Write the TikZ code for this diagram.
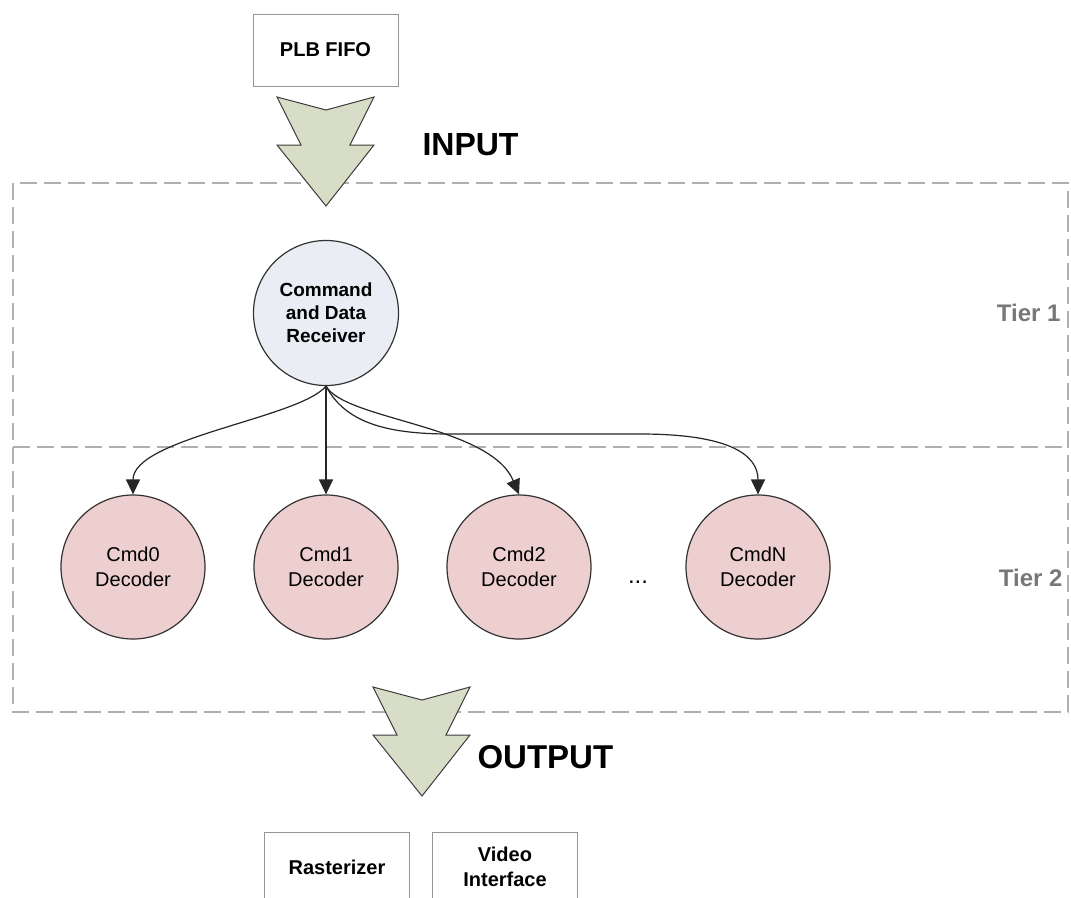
\documentclass[tikz,border=0pt]{standalone}
\usepackage{fontspec}
\setmainfont{Liberation Sans}
\usetikzlibrary{arrows.meta}

\definecolor{arrowfill}{RGB}{216,221,199}
\definecolor{arrowline}{RGB}{60,60,60}
\definecolor{rxfill}{RGB}{234,238,244}
\definecolor{decfill}{RGB}{238,207,207}
\definecolor{boxgray}{RGB}{150,150,150}
\definecolor{dashgray}{RGB}{175,175,175}
\definecolor{tiergray}{RGB}{120,120,120}

\tikzset{
  blockbox/.style={draw=boxgray, line width=1pt, fill=white, align=center,
    minimum width=145, minimum height=72, inner sep=0pt,
    font=\bfseries\fontsize{20}{25}\selectfont},
  rxnode/.style={circle, draw=black!80, line width=1.2pt, fill=rxfill,
    minimum size=145, inner sep=0pt, align=center,
    font=\bfseries\fontsize{19}{23}\selectfont},
  decnode/.style={circle, draw=black!80, line width=1.2pt, fill=decfill,
    minimum size=144, inner sep=0pt, align=center,
    font=\fontsize{20}{25}\selectfont},
  tierlabel/.style={anchor=east, text=tiergray, font=\bfseries\fontsize{24}{28}\selectfont},
  flowlabel/.style={anchor=west, font=\bfseries\fontsize{32}{36}\selectfont},
  tierframe/.style={draw=dashgray, line width=1.5pt, dash pattern=on 17pt off 7pt},
  link/.style={line width=1.2pt, black!85, -{Triangle[length=15pt,width=14pt]}},
  bigarrow/.pic={
    \draw[draw=arrowline, line width=1pt, fill=arrowfill, line join=miter]
      (-49,-13) -- (0,0) -- (48,-13) -- (24,35) -- (48,35) -- (0,96)
      -- (-49,35) -- (-25,35) -- cycle;
  }
}

\begin{document}
\begin{tikzpicture}[x=1pt,y=-1pt]
\useasboundingbox (0,0) rectangle (1071,897);
\clip (0,0) rectangle (1071,897);

% tier frames
\draw[tierframe] (13,183) rectangle (1068,712);
\draw[tierframe] (13,447) -- (1068,447);
\node[tierlabel] (t1) at (1064,313) {Tier 1};
\node[tierlabel] (t2) at (1066,578) {Tier 2};

% input side
\node[blockbox] (fifo) at (325.5,50) {PLB FIFO};
\pic at (326,110) {bigarrow};
\node[flowlabel] (in) at (419,145) {INPUT};

% tier 1
\node[rxnode] (rx) at (326,313) {Command\\and Data\\Receiver};

% tier 2
\node[decnode] (d0) at (133,567) {Cmd0\\Decoder};
\node[decnode] (d1) at (326,567) {Cmd1\\Decoder};
\node[decnode] (d2) at (519,567) {Cmd2\\Decoder};
\node[decnode] (dn) at (758,567) {CmdN\\Decoder};
\node[anchor=base, font=\fontsize{24}{28}\selectfont] (dots) at (638,583) {...};

% dispatch links
\coordinate (runA) at (450,434);
\coordinate (runB) at (640,434);
\draw[link] (rx.south) .. controls (300,418) and (133,438) .. (d0.north);
\draw[link] (rx.south) -- (d1.north);
\draw[link] (rx.south) .. controls (345,420) and (490,425) .. (d2.north);
\draw[link] (rx.south) .. controls (345,422) and (385,434) .. (runA)
  -- (runB) .. controls (730,434) and (758,455) .. (dn.north);

% output side
\pic at (422,700) {bigarrow};
\node[flowlabel, font=\bfseries\fontsize{33}{36}\selectfont] (out) at (474,757) {OUTPUT};
\node[blockbox, minimum height=70] (rast) at (337,867) {Rasterizer};
\node[blockbox, minimum height=70] (vid) at (505,867) {Video\\Interface};
\end{tikzpicture}
\end{document}
